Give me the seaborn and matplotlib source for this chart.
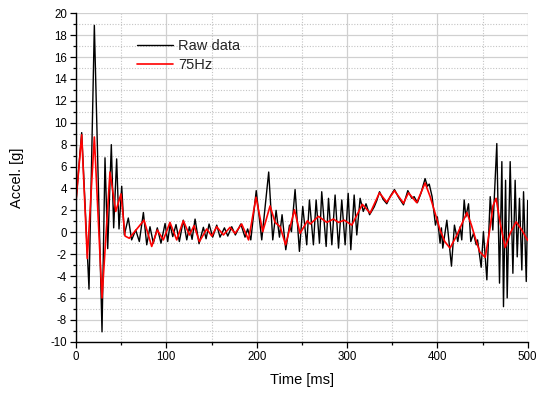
import numpy as np
import pandas as pd
import matplotlib
matplotlib.use("Agg")
import matplotlib.pyplot as plt
import seaborn as sns
from matplotlib.ticker import MultipleLocator

# ---- data ----
raw_t = [0, 6.3, 14.4, 20.3, 28.8, 32.1, 35.1, 39.1, 41.7, 45.0,
         47.6, 50.6, 53.5, 57.9, 61.6, 66.1, 70.1, 74.6, 78.3, 81.9,
         85.6, 90.0, 94.1, 98.6, 101.5, 104.1, 107.1, 110.7, 114.4, 118.8,
         122.6, 125.5, 128.5, 131.8, 136.2, 141.0, 144.0, 147.3, 151.3, 155.8,
         159.4, 164.3, 168.0, 172.4, 176.4, 182.4, 187.1, 190.0, 193.5, 199.5,
         205.6, 213.3, 217.8, 221.5, 225.2, 228.1, 232.2, 236.3, 238.5, 242.5,
         247.3, 251.0, 255.4, 258.4, 262.8, 265.8, 269.5, 272.0, 276.9, 279.5,
         283.2, 286.8, 290.6, 294.2, 297.9, 301.3, 304.2, 307.9, 310.8, 314.5,
         318.0, 321.0, 325.0, 330.0, 333.0, 336.0, 340.0, 344.0, 348.0, 352.5,
         357.0, 362.5, 367.3, 371.7, 374.3, 377.9, 382.0, 386.4, 389.0, 391.0,
         394.2, 397.9, 400.0, 403.0, 404.5, 406.0, 410.5, 415.6, 418.9, 422.6,
         425.2, 427.0, 429.7, 431.5, 434.5, 437.0, 440.0, 443.0, 444.5, 448.5,
         451.0, 454.8, 458.5, 461.4, 465.8, 468.8, 471.4, 473.2, 475.5, 477.3,
         480.6, 483.6, 486.1, 488.4, 490.9, 493.5, 495.4, 498.4, 500.0]
raw_v = [2.8, 9.1, -5.2, 18.9, -9.1, 6.8, -1.5, 8.0, 0.4, 6.7,
         0.3, 4.2, -0.25, 1.3, -0.7, 0.2, -0.85, 1.8, -1.15, 0.5,
         -1.0, 0.4, -1.0, 0.8, -0.85, 0.7, -0.4, 0.7, -0.85, 1.1,
         -0.7, 0.5, -0.65, 1.2, -1.05, 0.45, -0.6, 0.75, -0.45, 0.65,
         -0.45, 0.4, -0.35, 0.5, -0.25, 0.75, -0.45, 0.3, -0.7, 3.8,
         -0.7, 5.5, -0.7, 2.0, -0.45, 1.6, -1.6, 0.65, 0.05, 3.9,
         -1.75, 2.35, -1.15, 2.95, -1.15, 2.95, -1.0, 3.7, -1.3, 3.1,
         -1.15, 3.4, -1.45, 2.95, -1.15, 3.55, -1.6, 3.4, -0.25, 3.1,
         1.9, 2.6, 1.6, 2.3, 2.9, 3.7, 3.0, 2.6, 3.3, 3.9,
         3.2, 2.5, 3.8, 3.1, 3.25, 2.7, 3.6, 4.9, 4.2, 4.4,
         3.25, 0.65, 1.4, -1.0, 0.4, -1.45, 1.1, -3.1, 0.65, -0.85,
         0.5, -0.7, 2.95, 1.4, 2.6, -0.85, -0.1, -1.15, -0.7, -3.2,
         0.05, -4.35, 3.25, 0.2, 8.1, -4.65, 6.45, -6.8, 4.75, -6.0,
         6.45, -3.75, 4.75, -2.25, 3.1, -3.45, 3.7, -4.5, 2.9]

filt_t = [0, 6.3, 12.5, 20.3, 28.8, 37.6, 44.0, 49.8, 54.3, 59.0,
          75.3, 83.8, 90.0, 96.7, 104.0, 111.5, 118.8, 125.5, 130.7, 136.6,
          144.7, 150.3, 155.8, 163.2, 170.5, 176.1, 183.4, 191.0, 199.3, 206.7,
          214.8, 220.4, 226.0, 232.0, 241.8, 248.0, 256.2, 259.3, 268.4, 277.6,
          285.0, 290.6, 297.0, 305.3, 316.9, 325.6, 335.9, 343.9, 352.5, 362.5,
          368.0, 377.2, 386.4, 392.0, 397.5, 403.0, 408.2, 414.0, 421.7, 432.7,
          437.7, 442.6, 447.0, 453.0, 458.5, 461.5, 465.0, 469.6, 475.1, 480.6,
          487.2, 493.5, 500.0]
filt_v = [2.8, 8.9, -2.4, 8.7, -6.0, 5.5, 1.9, 3.5, -0.35, -0.55,
          1.1, -1.3, 0.2, -0.7, 0.9, -0.7, 1.05, -0.25, 0.6, -0.85,
          0.3, -0.35, 0.5, -0.25, 0.45, -0.1, 0.75, -0.7, 3.2, 0.05,
          2.4, 0.9, 0.5, -1.15, 2.05, -0.1, 1.05, 0.75, 1.45, 0.9,
          1.2, 0.9, 1.1, 0.65, 2.55, 1.75, 3.6, 2.75, 3.8, 2.65,
          3.6, 2.7, 4.5, 3.25, 1.75, 0.2, -0.85, -1.45, -0.25, 1.8,
          0.65, -0.7, -1.8, -2.3, 0.5, 2.4, 3.1, 0.8, -1.4, -0.1,
          0.95, 0.2, -0.75]

series_labels = ["Raw data", "75Hz"]
x_label = "Time [ms]"
y_label = "Accel. [g]"

# ---- style ----
sns.set_theme(style="white")
plt.rcParams["font.family"] = ["Liberation Sans", "DejaVu Sans"]
plt.rcParams["axes.unicode_minus"] = False

fig = plt.figure(figsize=(5.5, 3.93), dpi=100)
L, R, T, B = 76, 527.7, 13.3, 341.7
ax = fig.add_axes([L / 550, 1 - B / 393, (R - L) / 550, (B - T) / 393])

raw_df = pd.DataFrame({"t": raw_t, "v": raw_v})
filt_df = pd.DataFrame({"t": filt_t, "v": filt_v})

sns.lineplot(data=raw_df, x="t", y="v", ax=ax, color="black", lw=1.0,
             label=series_labels[0], estimator=None)
sns.lineplot(data=filt_df, x="t", y="v", ax=ax, color="#ff0000", lw=1.2,
             label=series_labels[1], estimator=None)

ax.set_xlim(0, 500)
ax.set_ylim(-10, 20)
ax.xaxis.set_major_locator(MultipleLocator(100))
ax.xaxis.set_minor_locator(MultipleLocator(50))
ax.yaxis.set_major_locator(MultipleLocator(2))
ax.yaxis.set_minor_locator(MultipleLocator(1))

ax.grid(which="major", color="#d0d0d0", lw=0.9, ls="-")
ax.grid(which="minor", color="#c4c4c4", lw=0.8, ls=(0, (1, 1.5)))
ax.set_axisbelow(True)

for s in ["top", "right"]:
    ax.spines[s].set_visible(False)
for s in ["left", "bottom"]:
    ax.spines[s].set_color("black")
    ax.spines[s].set_linewidth(1.0)

ax.tick_params(which="major", direction="out", length=4, width=0.9,
               color="black", labelcolor="black", labelsize=8.3, pad=2.5,
               bottom=True, left=True)
ax.tick_params(which="minor", direction="out", length=2.2, width=0.9,
               color="black", bottom=True, left=True)

ax.set_xlabel(x_label, fontsize=10.5, color="black")
ax.set_ylabel(y_label, fontsize=10.5, color="black")
ax.xaxis.set_label_coords(0.5, (B - 373) / (B - T))
ax.yaxis.set_label_coords((24 - L) / (R - L), 0.5)

ax.legend(loc="upper left", bbox_to_anchor=(136.7 / 550, 1 - 39 / 393),
          bbox_transform=fig.transFigure, frameon=False, fontsize=10.5,
          handlelength=2.5, handletextpad=0.35, labelspacing=0.35,
          borderpad=0, borderaxespad=0)

fig.savefig("out.png", dpi=100)
